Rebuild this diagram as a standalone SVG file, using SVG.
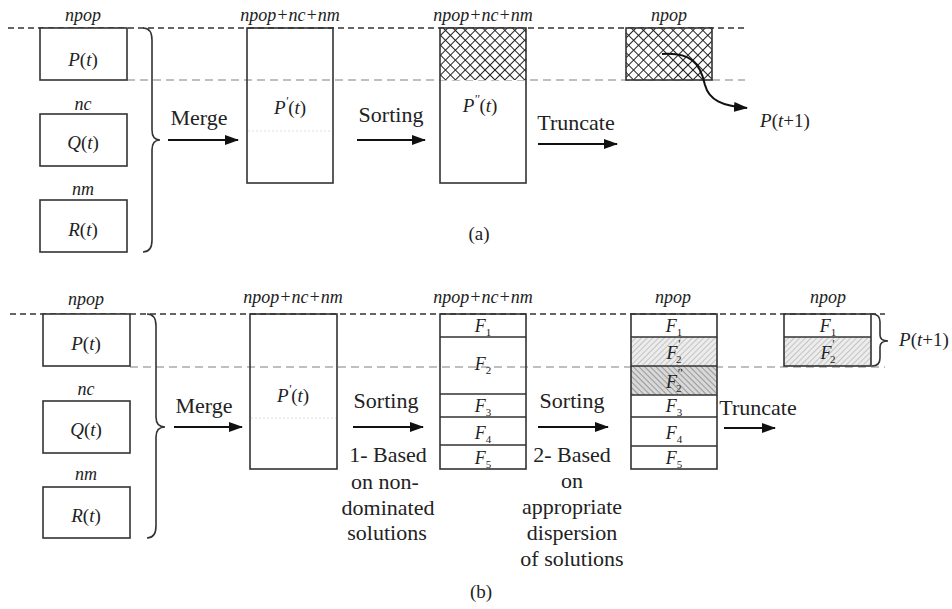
<svg xmlns="http://www.w3.org/2000/svg" width="952" height="609" viewBox="0 0 952 609">
<defs>
<style>
.box{fill:#fff;stroke:#333;stroke-width:1.6}
.nof{fill:none;stroke:#333;stroke-width:1.6}
.lbl{font-style:italic;font-size:18px;fill:#222;text-anchor:middle}
.var{font-style:italic;font-size:19px;fill:#222;text-anchor:middle}
.txt{font-size:22px;fill:#222;text-anchor:middle}
.cap{font-size:19px;fill:#222;text-anchor:middle}
.up{font-style:normal}
.sub{font-style:normal;font-size:11px}
.dark{stroke:#333;stroke-width:1.6;stroke-dasharray:6 4;fill:none}
.gray{stroke:#aaa;stroke-width:1.4;stroke-dasharray:8 5;fill:none}
.dot{stroke:#ddd;stroke-width:1;stroke-dasharray:2 2;fill:none}
.arr{stroke:#111;stroke-width:2;fill:none;marker-end:url(#ah)}
.brace{fill:none;stroke:#333;stroke-width:1.6}
</style>
<marker id="ah" markerUnits="userSpaceOnUse" markerWidth="14" markerHeight="10" refX="13" refY="5" orient="auto">
<path d="M0,0 L14,5 L0,10 z" fill="#111"/>
</marker>
<pattern id="cross" width="7" height="7" patternUnits="userSpaceOnUse" patternTransform="rotate(45)">
<rect width="7" height="7" fill="#fff"/>
<path d="M0,0 H7 M0,0 V7" stroke="#222" stroke-width="2"/>
</pattern>
<pattern id="hatch1" width="4" height="4" patternUnits="userSpaceOnUse" patternTransform="rotate(45)">
<rect width="4" height="4" fill="#ececec"/>
<path d="M0,0 V4" stroke="#aaa" stroke-width="1.2"/>
</pattern>
<pattern id="hatch2" width="4" height="4" patternUnits="userSpaceOnUse" patternTransform="rotate(-45)">
<rect width="4" height="4" fill="#d8d8d8"/>
<path d="M0,0 V4" stroke="#777" stroke-width="1.3"/>
</pattern>
</defs>
<rect width="952" height="609" fill="#fff"/>
<g font-family="Liberation Serif, Times New Roman, DejaVu Serif, serif">

<g id="guides">
<path class="dark" d="M8,28 H745"/>
<path class="gray" d="M127,80 H745"/>
<path class="dark" d="M10,314 H885"/>
<path class="gray" d="M130,367 H885"/>
</g>

<g id="a-P">
<text class="lbl" x="83" y="21">npop</text>
<rect class="box" x="40" y="28" width="87" height="52"/>
<text class="var" x="83" y="66">P<tspan class="up">(</tspan>t<tspan class="up">)</tspan></text>
</g>
<g id="a-Q">
<text class="lbl" x="83" y="110">nc</text>
<rect class="box" x="40" y="114" width="87" height="52"/>
<text class="var" x="83" y="149">Q<tspan class="up">(</tspan>t<tspan class="up">)</tspan></text>
</g>
<g id="a-R">
<text class="lbl" x="83" y="195">nm</text>
<rect class="box" x="40" y="200" width="87" height="52"/>
<text class="var" x="83" y="236">R<tspan class="up">(</tspan>t<tspan class="up">)</tspan></text>
</g>
<g id="a-brace">
<path class="brace" d="M143,28 Q152,28 152,40 L152,130 Q152,140 160,140 Q152,140 152,150 L152,240 Q152,252 143,252"/>
</g>
<g id="a-Pp">
<text class="lbl" x="290" y="21">npop+nc+nm</text>
<rect class="nof" x="247" y="28" width="86" height="155"/>
<path class="dot" d="M248,131 H332"/>
<text class="var" x="290" y="114">P<tspan font-size="12" dy="-9">'</tspan><tspan class="up" dy="9">(</tspan>t<tspan class="up">)</tspan></text>
</g>
<g id="a-Ppp">
<text class="lbl" x="483" y="21">npop+nc+nm</text>
<rect x="440" y="28" width="86" height="52" fill="url(#cross)"/>
<rect class="nof" x="440" y="28" width="86" height="155"/>
<text class="var" x="480" y="112">P<tspan font-size="12" dy="-9">''</tspan><tspan class="up" dy="9">(</tspan>t<tspan class="up">)</tspan></text>
</g>
<g id="a-next">
<text class="lbl" x="669" y="21">npop</text>
<rect x="626" y="28" width="86" height="52" fill="url(#cross)" stroke="#333" stroke-width="1.6"/>
<text class="var" x="785" y="127">P<tspan class="up">(</tspan>t<tspan class="up">+1)</tspan></text>
</g>
<g id="a-connectors">
<text class="txt" x="199" y="125">Merge</text>
<path class="arr" d="M168,140 H238"/>
<text class="txt" x="391" y="122">Sorting</text>
<path class="arr" d="M357,140 H425"/>
<text class="txt" x="576" y="130">Truncate</text>
<path class="arr" d="M538,144 H617"/>
<path class="arr" d="M662,54 C690,52 700,62 705,85 C709,100 722,106 747,108"/>
</g>
<text class="cap" x="479" y="240">(a)</text>

<g id="b-P">
<text class="lbl" x="86" y="305">npop</text>
<rect class="box" x="43" y="314" width="87" height="52"/>
<text class="var" x="86" y="350">P<tspan class="up">(</tspan>t<tspan class="up">)</tspan></text>
</g>
<g id="b-Q">
<text class="lbl" x="86" y="395">nc</text>
<rect class="box" x="43" y="401" width="87" height="52"/>
<text class="var" x="86" y="436">Q<tspan class="up">(</tspan>t<tspan class="up">)</tspan></text>
</g>
<g id="b-R">
<text class="lbl" x="86" y="480">nm</text>
<rect class="box" x="43" y="487" width="87" height="51"/>
<text class="var" x="86" y="522">R<tspan class="up">(</tspan>t<tspan class="up">)</tspan></text>
</g>
<g id="b-brace">
<path class="brace" d="M147,314 Q156,314 156,326 L156,417 Q156,427 165,427 Q156,427 156,437 L156,526 Q156,538 147,538"/>
</g>
<g id="b-Pp">
<text class="lbl" x="293" y="303">npop+nc+nm</text>
<rect class="nof" x="250" y="314" width="87" height="155"/>
<path class="dot" d="M251,418 H336"/>
<text class="var" x="293" y="402">P<tspan font-size="12" dy="-9">'</tspan><tspan class="up" dy="9">(</tspan>t<tspan class="up">)</tspan></text>
</g>
<g id="b-F">
<text class="lbl" x="483" y="303">npop+nc+nm</text>
<rect class="nof" x="440" y="314" width="86" height="155"/>
<path class="nof" d="M440,337 H526 M440,394 H526 M440,417 H526 M440,445 H526"/>
<text class="lbl" x="483" y="332">F<tspan class="sub" dy="4">1</tspan></text>
<text class="lbl" x="483" y="370">F<tspan class="sub" dy="4">2</tspan></text>
<text class="lbl" x="483" y="412">F<tspan class="sub" dy="4">3</tspan></text>
<text class="lbl" x="483" y="439">F<tspan class="sub" dy="4">4</tspan></text>
<text class="lbl" x="483" y="464">F<tspan class="sub" dy="4">5</tspan></text>
</g>
<g id="b-Fs">
<text class="lbl" x="673" y="303">npop</text>
<rect x="631" y="337" width="86" height="29" fill="url(#hatch1)"/>
<rect x="631" y="366" width="86" height="29" fill="url(#hatch2)"/>
<rect class="nof" x="631" y="314" width="86" height="155"/>
<path class="nof" d="M631,337 H717 M631,366 H717 M631,395 H717 M631,417 H717 M631,446 H717"/>
<text class="lbl" x="674" y="332">F<tspan class="sub" dy="4">1</tspan></text>
<text class="lbl" x="674" y="359">F<tspan font-size="12" dy="-11">'</tspan><tspan class="sub" dx="-4" dy="15">2</tspan></text>
<text class="lbl" x="674" y="388">F<tspan font-size="12" dy="-11">''</tspan><tspan class="sub" dx="-6" dy="15">2</tspan></text>
<text class="lbl" x="674" y="412">F<tspan class="sub" dy="4">3</tspan></text>
<text class="lbl" x="674" y="439">F<tspan class="sub" dy="4">4</tspan></text>
<text class="lbl" x="674" y="464">F<tspan class="sub" dy="4">5</tspan></text>
</g>
<g id="b-next">
<text class="lbl" x="828" y="303">npop</text>
<rect x="784" y="337" width="87" height="29" fill="url(#hatch1)"/>
<rect class="nof" x="784" y="314" width="87" height="52"/>
<path class="nof" d="M784,337 H871"/>
<text class="lbl" x="828" y="332">F<tspan class="sub" dy="4">1</tspan></text>
<text class="lbl" x="828" y="359">F<tspan font-size="12" dy="-11">'</tspan><tspan class="sub" dx="-4" dy="15">2</tspan></text>
<path class="brace" d="M872,314 Q880,314 880,322 L880,335 Q880,341 888,341 Q880,341 880,347 L880,358 Q880,366 872,366"/>
<text class="var" x="924" y="346">P<tspan class="up">(</tspan>t<tspan class="up">+1)</tspan></text>
</g>
<g id="b-connectors">
<text class="txt" x="204" y="413">Merge</text>
<path class="arr" d="M174,427 H242"/>
<text class="txt" x="386" y="408">Sorting</text>
<path class="arr" d="M353,427 H423"/>
<text class="txt" x="388" y="462">1- Based</text>
<text class="txt" x="385" y="489">on non-</text>
<text class="txt" x="388" y="515">dominated</text>
<text class="txt" x="387" y="540">solutions</text>
<text class="txt" x="572" y="408">Sorting</text>
<path class="arr" d="M538,427 H608"/>
<text class="txt" x="572" y="462">2- Based</text>
<text class="txt" x="572" y="488">on</text>
<text class="txt" x="572" y="514">appropriate</text>
<text class="txt" x="572" y="540">dispersion</text>
<text class="txt" x="572" y="566">of solutions</text>
<text class="txt" x="758" y="415">Truncate</text>
<path class="arr" d="M724,428 H775"/>
</g>
<text class="cap" x="481" y="598">(b)</text>
</g>
</svg>
